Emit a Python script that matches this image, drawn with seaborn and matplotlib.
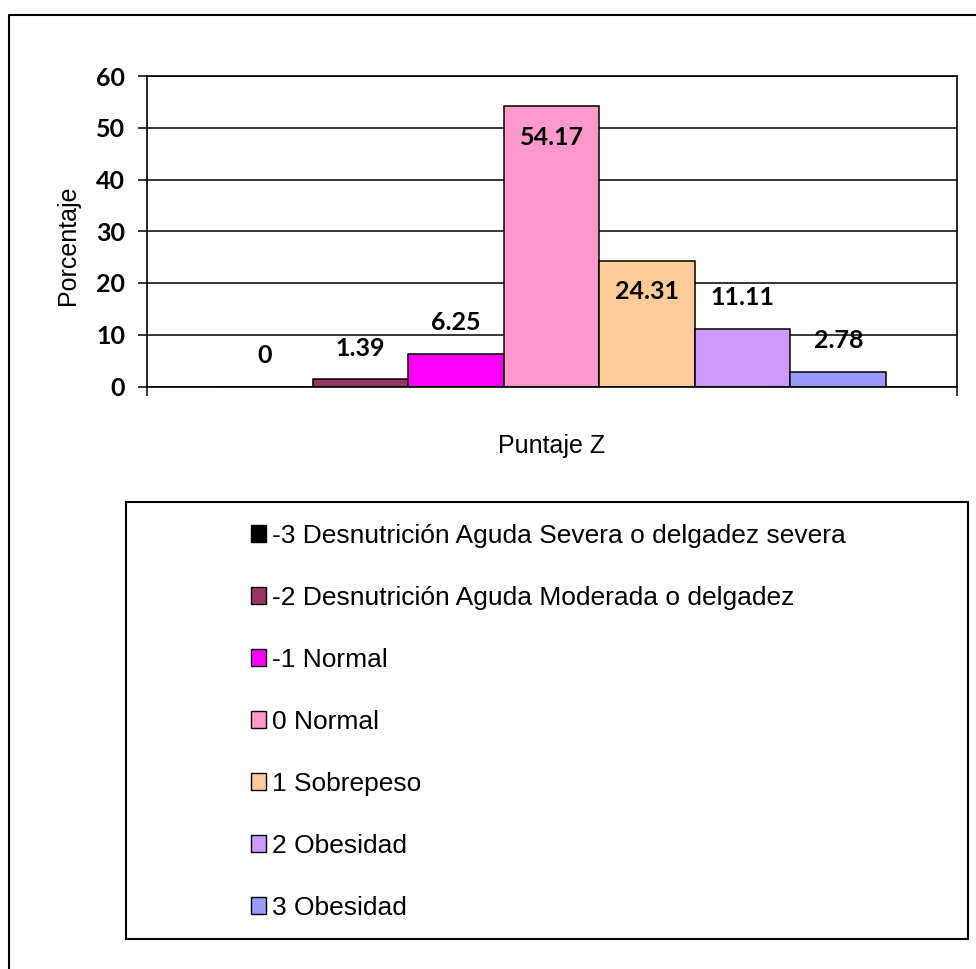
import matplotlib
matplotlib.use("Agg")
import matplotlib.pyplot as plt
from matplotlib.lines import Line2D
from matplotlib.patches import Rectangle
import seaborn as sns
import pandas as pd

# Distribución por puntaje Z
categorias = [
    "-3 Desnutrición Aguda Severa o delgadez severa",
    "-2 Desnutrición Aguda Moderada o delgadez",
    "-1 Normal",
    "0 Normal",
    "1 Sobrepeso",
    "2 Obesidad",
    "3 Obesidad",
]
porcentajes = [0, 1.39, 6.25, 54.17, 24.31, 11.11, 2.78]
colores = ["#000000", "#993366", "#FF00FF", "#FF99CC", "#FFCC99", "#CC99FF", "#9999FF"]
marcas_y = [0, 10, 20, 30, 40, 50, 60]

df = pd.DataFrame({"categoria": categorias, "porcentaje": porcentajes})

sns.set_theme(style="white")
plt.rcParams["font.family"] = ["Liberation Sans", "DejaVu Sans"]
plt.rcParams.update({"text.color": "black", "axes.labelcolor": "black",
                     "xtick.color": "black", "ytick.color": "black"})

W, H = 976, 969
fig = plt.figure(figsize=(W / 100, H / 100), dpi=100)
fig.patch.set_facecolor("white")
ax = fig.add_axes([147 / W, 1 - 386.5 / H, 810 / W, 310.5 / H])

sns.barplot(
    data=df, x="categoria", y="porcentaje", hue="categoria",
    order=categorias, hue_order=categorias, palette=colores,
    saturation=1, width=1.0, edgecolor="black", linewidth=1.1,
    legend=False, ax=ax,
)

# ejes
x0, x1 = -1.236, 7.243
ax.set_xlim(x0, x1)
ax.set_ylim(0, 60)
ax.set_xticks([x0, x1])
ax.set_xticklabels(["", ""])
ax.set_yticks(marcas_y)
ax.set_yticklabels([str(v) for v in marcas_y], fontfamily="Lato",
                   fontweight="bold", fontsize=18)
ax.tick_params(axis="both", which="major", direction="out", length=6.7,
               width=1.1, color="black", left=True, bottom=True)
ax.tick_params(axis="y", pad=9, labelcolor="black")
ax.yaxis.grid(True, color="black", linewidth=1.1)
ax.xaxis.grid(False)
ax.set_axisbelow(True)
for s in ax.spines.values():
    s.set_visible(True)
    s.set_color("black")
    s.set_linewidth(1.2)

ax.set_ylabel("Porcentaje", fontsize=18, color="black", labelpad=12)
ax.yaxis.set_label_coords(-0.083, 0.456)
ax.set_xlabel("Puntaje Z", fontsize=18, color="black", labelpad=24)

# etiquetas de valor
for cont, v in zip(ax.containers, porcentajes):
    p = cont.patches[0]
    cx = p.get_x() + p.get_width() / 2
    dy = -22.5 if v > 20 else 22.5
    ax.annotate(f"{v:g}", xy=(cx, p.get_height()), xytext=(0, dy),
                textcoords="offset points", ha="center", va="center",
                fontfamily="Lato", fontweight="bold", fontsize=18,
                color="black")

# leyenda
handles = [Rectangle((0, 0), 1, 1, facecolor=c, edgecolor="black",
                     linewidth=1.0) for c in colores]
fig.legend(handles, categorias, loc="center",
           bbox_to_anchor=(548 / W, 1 - 722 / H), frameon=False,
           fontsize=19, handlelength=0.6, handleheight=0.6,
           handletextpad=0.2, labelspacing=1.44, borderpad=0,
           labelcolor="black")
fig.add_artist(Rectangle((126 / W, 1 - 939 / H), 842 / W, 437 / H,
                         transform=fig.transFigure, fill=False,
                         edgecolor="black", linewidth=1.5))

# marco exterior
fig.add_artist(Line2D([9 / W, 9 / W, 1.0], [0.0, 1 - 15 / H, 1 - 15 / H],
                      transform=fig.transFigure, color="black",
                      linewidth=1.5))

fig.savefig("out.png", dpi=100, facecolor="white")
